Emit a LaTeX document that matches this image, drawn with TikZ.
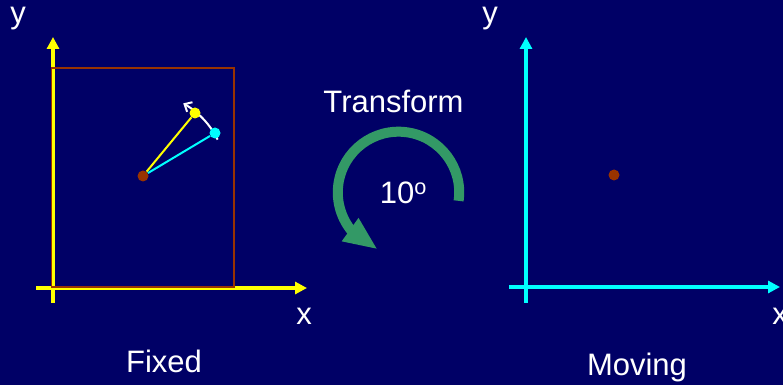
\documentclass[tikz,border=0pt]{standalone}
\usepackage{fontspec}
\setmainfont{Liberation Sans}
\usetikzlibrary{arrows.meta,bending,positioning}
\definecolor{tfnavy}{RGB}{0,0,102}
\definecolor{tfyellow}{RGB}{255,255,0}
\definecolor{tfcyan}{RGB}{0,255,255}
\definecolor{tfbrown}{RGB}{153,51,0}
\definecolor{tfgreen}{RGB}{51,153,102}

\begin{document}
\begin{tikzpicture}[x=1pt, y=1pt,
  ax/.style={line width=4pt, -{Triangle[length=12pt,width=12pt]}},
  dot/.style={circle, inner sep=0pt, minimum size=11pt},
  lbl/.style={text=white, font=\fontsize{31}{36}\selectfont, inner sep=0pt, anchor=base},
  frame/.style={draw=tfbrown, line width=1.8pt},
  turn/.style={draw=tfgreen, line width=10pt, -{Triangle[flex, length=34pt,width=26pt]}},
  rot/.style={draw=white, line width=2pt, -{Straight Barb[length=6pt,width=11pt]}}
]
\fill[tfnavy] (0,0) rectangle (783,385);
\useasboundingbox (0,0) rectangle (783,385);

% Fixed image
\coordinate (fy0) at (53,82);
\coordinate (fy1) at (53,348);
\coordinate (fx0) at (36,97);
\coordinate (fx1) at (307,97);
\draw[ax, tfyellow] (fy0) -- (fy1);
\draw[ax, tfyellow] (fx0) -- (fx1);
\draw[frame] (51.5,98) rectangle (234,317);
\node[lbl] (fylbl) at (18,361) {y};
\node[lbl] (fxlbl) at (304,60) {x};
\node[lbl] (fixed) at (164,13) {Fixed};

% rotation of the point about the centre
\coordinate (fpivot) at (143,209);
\draw[rot] (fpivot) ++(26:83) arc[start angle=26, end angle=61, radius=83];
\node[dot, fill=tfbrown] (fctr) at (fpivot) {};
\node[dot, fill=tfyellow] (fpt) at (195,272) {};
\node[dot, fill=tfcyan] (fnew) at (215,252) {};
\draw[tfyellow, line width=2pt] (fctr) -- (fpt);
\draw[tfcyan, line width=2pt] (fctr) -- (fnew);

% Transform
\node[lbl] (tlbl) at (393.5,272) {Transform};
\coordinate (tpivot) at (398.5,192.6);
\draw[turn] (tpivot) ++(-8:60.7) arc[start angle=-8, end angle=250, radius=60.7];
\node[lbl] (angle) at (403.4,181.5) {10\textsuperscript{o}};

% Moving image
\coordinate (my0) at (526,82);
\coordinate (my1) at (526,348);
\coordinate (mx0) at (509,98);
\coordinate (mx1) at (780,98);
\draw[ax, tfcyan] (my0) -- (my1);
\draw[ax, tfcyan] (mx0) -- (mx1);
\node[dot, fill=tfbrown] (mctr) at (614,210) {};
\node[lbl] (mylbl) at (490,361) {y};
\node[lbl] (mxlbl) at (780,60) {x};
\node[lbl] (moving) at (637,10) {Moving};
\end{tikzpicture}
\end{document}
